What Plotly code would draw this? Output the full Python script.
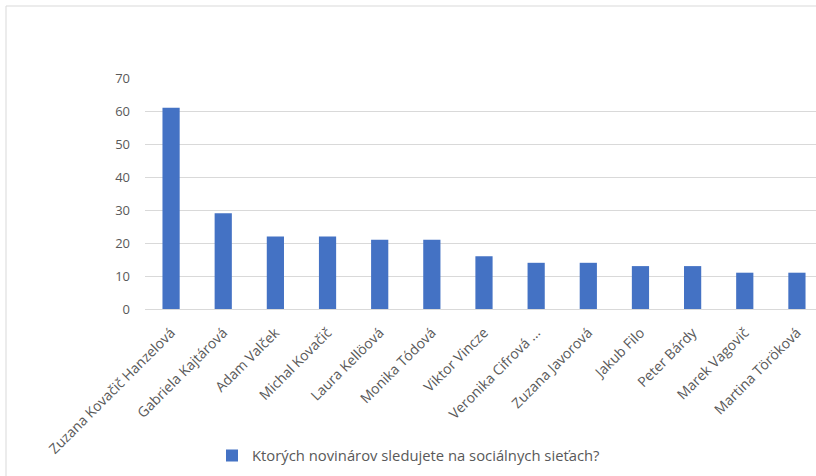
import plotly.graph_objects as go

categories = ["Zuzana Kovačič Hanzelová", "Gabriela Kajtárová", "Adam Valček", "Michal Kovačič",
              "Laura Kellöová", "Monika Tódová", "Viktor Vincze", "Veronika Cifrová ...",
              "Zuzana Javorová", "Jakub Filo", "Peter Bárdy", "Marek Vagovič", "Martina Töröková"]
values = [61, 29, 22, 22, 21, 21, 16, 14, 14, 13, 13, 11, 11]
series_name = "Ktorých novinárov sledujete na sociálnych sieťach?"
y_ticks = [0, 10, 20, 30, 40, 50, 60, 70]

W, H = 816, 476
L, R, T, B = 145, 0, 78, 167
pw, ph = W - L - R, H - T - B

def px(x):
    return (x - L) / pw

def py(y):
    return (H - B - y) / ph

fig = go.Figure()
fig.add_trace(go.Bar(x=categories, y=values, name=series_name,
                     marker=dict(color="#4472C4", line=dict(width=0))))

fig.update_layout(
    width=W, height=H,
    margin=dict(l=L, r=R, t=T, b=B, autoexpand=False),
    paper_bgcolor="white", plot_bgcolor="white",
    font=dict(family="'Open Sans', sans-serif", size=13, color="#595959"),
    bargap=0.67,
    showlegend=True,
    legend=dict(orientation="h", x=px(212), xanchor="left", y=py(456), yanchor="middle",
                font=dict(size=14.8, color="#595959"), itemwidth=30, bgcolor="rgba(0,0,0,0)"),
    xaxis=dict(range=[-0.5, 12.5 - 7 / 52.17], tickangle=-45, showgrid=False,
               showline=True, linecolor="#d9d9d9", linewidth=1, ticks="", ticklabelstandoff=9,
               tickfont=dict(size=14, color="#595959"), fixedrange=True),
    yaxis=dict(range=[0, 70], tickvals=y_ticks, showgrid=True, gridcolor="#d9d9d9", gridwidth=1,
               zeroline=False, showline=False, ticks="", ticklabelstandoff=14,
               tickfont=dict(size=13, color="#595959"), fixedrange=True),
    shapes=[dict(type="rect", xref="paper", yref="paper",
                 x0=px(6), x1=px(W + 20), y0=py(H + 20), y1=py(6),
                 line=dict(color="#d9d9d9", width=1), fillcolor="rgba(0,0,0,0)", layer="below")],
)

fig.write_html("out.html")
